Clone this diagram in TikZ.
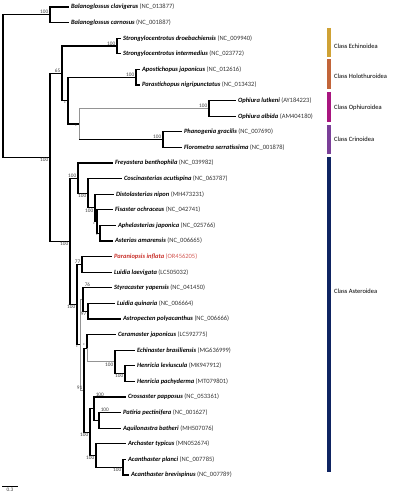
\documentclass[tikz,border=0pt]{standalone}
\usepackage{fontspec}
\setmainfont{Carlito}
\usetikzlibrary{calc}
\definecolor{redlab}{HTML}{C8302A}
\definecolor{cEch}{HTML}{CFA235}
\definecolor{cHol}{HTML}{C2653A}
\definecolor{cOph}{HTML}{A8157F}
\definecolor{cCri}{HTML}{7A3F98}
\definecolor{cAst}{HTML}{0F2462}
\newcommand\leafnode[6]{%
  \coordinate (t#1) at (#2,#3);
  \node[leaf,text=#6] (l#1) at ([xshift=1.8pt]t#1) {\textbf{\textit{#4}}\ {\color{#6!80}(#5)}};
}
\begin{document}
\begin{tikzpicture}[x=1pt,y=-1pt,
  br/.style={line width=1.05pt,draw=black},
  gbr/.style={line width=1pt,draw=black!42},
  leaf/.style={anchor=west,inner sep=0pt,font=\fontsize{6.5}{7}\selectfont},
  sup/.style={font=\fontsize{5.3}{6}\selectfont,text=black!75,inner sep=0.6pt},
  al/.style={sup,anchor=south east},
  bl/.style={sup,anchor=north east},
  clab/.style={anchor=west,inner sep=0pt,font=\fontsize{6.5}{7}\selectfont,text=black},
  cbar/.style={line width=3.2pt}]
\useasboundingbox (0,0) rectangle (395,500);

% internal nodes
\coordinate (root) at (3,86);
\coordinate (bal) at (50,14.8);
\coordinate (D) at (50,157.3);
\coordinate (n65) at (62,73.3);
\coordinate (echi) at (117,46);
\coordinate (B) at (68,100.6);
\coordinate (holo) at (136,77.2);
\coordinate (C) at (79,124);
\coordinate (oph) at (209,108.4);
\coordinate (cri) at (163,139.6);
\coordinate (E) at (70,241.35);
\coordinate (F) at (78,178.1);
\coordinate (H) at (88,193.2);
\coordinate (I) at (95,207.85);
\coordinate (J) at (97,221.5);
\coordinate (K) at (100,233.2);
\coordinate (G) at (77,304.6);
\coordinate (n77) at (82,264.4);
\coordinate (S) at (80,344.85);
\coordinate (M) at (83,299.5);
\coordinate (N) at (88,311.2);
\coordinate (Q) at (84,390.2);
\coordinate (CN) at (87,348.25);
\coordinate (EN) at (115,361.9);
\coordinate (HN) at (125,373.6);
\coordinate (P) at (90,432.1);
\coordinate (CrN) at (94,408.7);
\coordinate (PaN) at (99,420.4);
\coordinate (AN) at (96,455.5);
\coordinate (AcN) at (123,467.2);

% leaves
\leafnode{1}{69}{7}{Balanoglossus clavigerus}{NC\_013877}{black}
\leafnode{2}{69}{22.6}{Balanoglossus carnosus}{NC\_001887}{black}
\leafnode{3}{121}{38.2}{Strongylocentrotus droebachiensis}{NC\_009940}{black}
\leafnode{4}{121}{53.8}{Strongylocentrotus intermedius}{NC\_023772}{black}
\leafnode{5}{140}{69.4}{Apostichopus japonicus}{NC\_012616}{black}
\leafnode{6}{140}{85}{Parastichopus nigripunctatus}{NC\_013432}{black}
\leafnode{7}{236}{100.6}{Ophiura lutkeni}{AY184223}{black}
\leafnode{8}{236}{116.2}{Ophiura albida}{AM404180}{black}
\leafnode{9}{182}{131.8}{Phanogenia gracilis}{NC\_007690}{black}
\leafnode{10}{182}{147.4}{Florometra serratissima}{NC\_001878}{black}
\leafnode{11}{113}{163}{Freyastera benthophila}{NC\_039982}{black}
\leafnode{12}{122}{178.6}{Coscinasterias acutispina}{NC\_063787}{black}
\leafnode{13}{114}{194.2}{Distolasterias nipon}{MH473231}{black}
\leafnode{14}{113}{209.8}{Fisaster ochraceus}{NC\_042741}{black}
\leafnode{15}{116}{225.4}{Aphelasterias japonica}{NC\_025766}{black}
\leafnode{16}{113}{241}{Asterias amarensis}{NC\_006665}{black}
\leafnode{17}{112}{256.6}{Paraniopsis inflata}{OR456205}{redlab}
\leafnode{18}{112}{272.2}{Luidia laevigata}{LC505032}{black}
\leafnode{19}{112}{287.8}{Styracaster yapensis}{NC\_041450}{black}
\leafnode{20}{115}{303.4}{Luidia quinaria}{NC\_006664}{black}
\leafnode{21}{121}{319}{Astropecten polyacanthus}{NC\_006666}{black}
\leafnode{22}{116}{334.6}{Ceramaster japonicus}{LC592775}{black}
\leafnode{23}{135}{350.2}{Echinaster brasiliensis}{MG636999}{black}
\leafnode{24}{135}{365.8}{Henricia leviuscula}{MK947912}{black}
\leafnode{25}{135}{381.4}{Henricia pachyderma}{MT079801}{black}
\leafnode{26}{126}{397}{Crossaster papposus}{NC\_053361}{black}
\leafnode{27}{121}{412.6}{Patiria pectinifera}{NC\_001627}{black}
\leafnode{28}{121}{428.2}{Aquilonastra batheri}{MH507076}{black}
\leafnode{29}{126}{443.8}{Archaster typicus}{MN052674}{black}
\leafnode{30}{126}{459.4}{Acanthaster planci}{NC\_007785}{black}
\leafnode{31}{129}{475}{Acanthaster brevispinus}{NC\_007789}{black}

% branches
\draw[br] (root) |- (bal); \draw[br] (root) |- (D);
\draw[br] (bal) |- (t1); \draw[br] (bal) |- (t2);
\draw[br] (D) |- (n65); \draw[br] (D) |- (E);
\draw[br] (n65) |- (echi); \draw[br] (n65) |- (B);
\draw[br] (echi) |- (t3); \draw[br] (echi) |- (t4);
\draw[br] (B) |- (holo); \draw[br] (B) |- (C);
\draw[br] (holo) |- (t5); \draw[br] (holo) |- (t6);
\draw[gbr] (C) |- (oph); \draw[gbr] (C) -- (C |- cri); \draw[br] (C |- cri) -- (cri);
\draw[br] (oph) |- (t7); \draw[br] (oph) |- (t8);
\draw[br] (cri) |- (t9); \draw[br] (cri) |- (t10);
\draw[br] (E) |- (F); \draw[br] (E) |- (G);
\draw[br] (F) |- (t11); \draw[br] (F) |- (H);
\draw[br] (H) |- (t12); \draw[br] (H) |- (I);
\draw[br] (I) |- (t13); \draw[br] (I) |- (J);
\draw[br] (J) |- (t14); \draw[br] (J) |- (K);
\draw[br] (K) |- (t15); \draw[br] (K) |- (t16);
\draw[br] (G) |- (n77); \draw[br] (G) |- (S);
\draw[br] (n77) |- (t17); \draw[br] (n77) |- (t18);
\draw[gbr] (S) |- (M); \draw[gbr] (S) |- (Q);
\draw[br] (M) |- (t19); \draw[br] (M) |- (N);
\draw[br] (N) |- (t20); \draw[br] (N) |- (t21);
\draw[br] (Q) |- (CN); \draw[br] (Q) |- (P);
\draw[br] (CN) |- (t22); \draw[gbr] (CN) |- (EN);
\draw[br] (EN) |- (t23); \draw[br] (EN) |- (HN);
\draw[br] (HN) |- (t24); \draw[br] (HN) |- (t25);
\draw[br] (P) |- (CrN); \draw[br] (P) |- (AN);
\draw[br] (CrN) |- (t26); \draw[br] (CrN) |- (PaN);
\draw[br] (PaN) |- (t27); \draw[br] (PaN) |- (t28);
\draw[br] (AN) |- (t29); \draw[br] (AN) |- (AcN);
\draw[br] (AcN) |- (t30); \draw[br] (AcN) |- (t31);

% support values
\node[al] (s1) at ([xshift=-1pt]bal) {100};
\node[bl] (s2) at ([xshift=-1pt]D) {100};
\node[al] (s3) at ([xshift=-1pt]n65) {65};
\node[al] (s4) at ([xshift=-1pt]echi) {100};
\node[bl] (s5) at ([xshift=-1pt]B) {*};
\node[al] (s6) at ([xshift=-1pt]holo) {100};
\node[bl] (s7) at ([xshift=-1pt]C) {*};
\node[al] (s8) at ([xshift=-1pt]oph) {100};
\node[al] (s9) at ([xshift=-1pt]cri) {100};
\node[bl] (s10) at ([xshift=-1pt]E) {100};
\node[al] (s11) at ([xshift=-1pt]F) {100};
\node[bl] (s12) at ([xshift=-1pt]H) {100};
\node[bl] (s13) at ([xshift=-1pt]I) {100};
\node[bl] (s14) at ([xshift=-1pt]J) {*};
\node[bl] (s15) at ([xshift=-1pt]K) {*};
\node[bl] (s16) at ([xshift=-1pt]G) {100};
\node[al] (s17) at ([xshift=-1pt]n77) {77};
\node[sup,anchor=south west] (s18) at ([xshift=1pt]M |- t19) {76};
\node[bl] (s19) at ([xshift=-1pt]N) {97};
\node[bl] (s20) at ([xshift=-1pt]S) {*};
\node[al] (s21) at ([xshift=-1pt]CN) {*};
\node[bl] (s22) at ([xshift=-1pt]EN) {100};
\node[bl] (s23) at ([xshift=-1pt]HN) {100};
\node[al] (s24) at ([xshift=-1pt]Q) {91};
\node[bl] (s25) at ([xshift=-1pt]P) {100};
\node[sup,anchor=south west] (s26) at ([xshift=1pt]CrN |- t26) {100};
\node[sup,anchor=south west] (s27) at ([xshift=1pt]PaN |- t27) {100};
\node[bl] (s28) at ([xshift=-1pt]AN) {100};
\node[bl] (s29) at ([xshift=-1pt]AcN) {100};

% class bars
\coordinate (e1) at (329,28); \coordinate (e2) at (329,57);
\coordinate (h1) at (329,59); \coordinate (h2) at (329,89);
\coordinate (o1) at (329,92); \coordinate (o2) at (329,122);
\coordinate (c1) at (329,125); \coordinate (c2) at (329,154);
\coordinate (a1) at (329,157); \coordinate (a2) at (329,472);
\draw[cbar,cEch] (e1) -- (e2);
\draw[cbar,cHol] (h1) -- (h2);
\draw[cbar,cOph] (o1) -- (o2);
\draw[cbar,cCri] (c1) -- (c2);
\draw[cbar,cAst] (a1) -- (a2);
\node[clab] (ce) at (334,46) {Class Echinoidea};
\node[clab] (ch) at (334,76) {Class Holothuroidea};
\node[clab] (co) at (334,108) {Class Ophiuroidea};
\node[clab] (cc) at (334,139) {Class Crinoidea};
\node[clab] (ca) at (334,291) {Class Asteroidea};

% scale bar
\coordinate (sb1) at (2,486); \coordinate (sb2) at (18,486);
\draw[line width=0.7pt] (sb1) -- (sb2);
\node[sup,anchor=north] (sbl) at ([yshift=-1.5pt]$(sb1)!0.5!(sb2)$) {0.3};
\end{tikzpicture}
\end{document}
